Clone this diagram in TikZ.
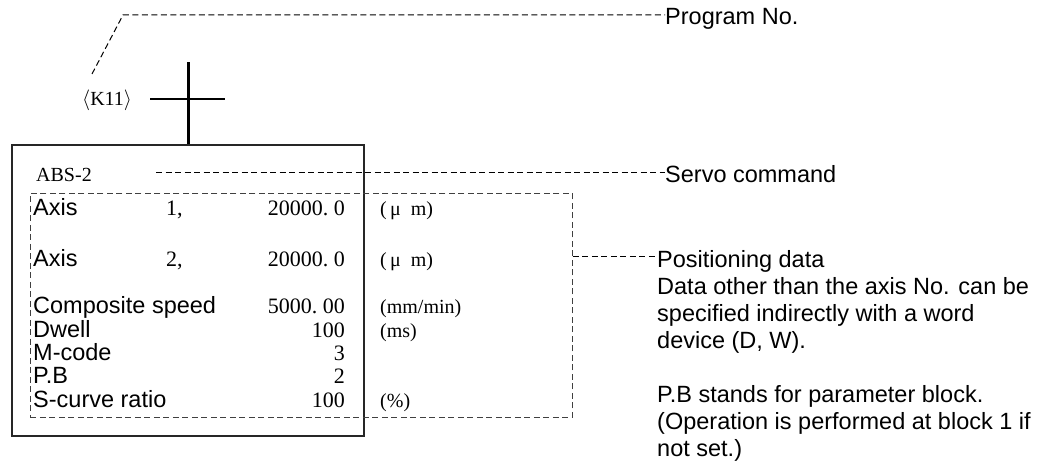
\documentclass[tikz,border=0pt]{standalone}
\usepackage{fontspec}
\setmainfont{Liberation Serif}
\setsansfont{Liberation Sans}
\usetikzlibrary{positioning}
\newcommand\lblfont{\sffamily\fontsize{23.5}{27}\selectfont}
\newcommand\valfont{\rmfamily\fontsize{22}{26}\selectfont}
\newcommand\unitfont{\rmfamily\fontsize{20}{24}\selectfont}
\newcommand\dpt{\makebox[0.5em][l]{.}}
\tikzset{
  leader/.style={dash pattern=on 6pt off 3.5pt,line width=1pt},
  boxleader/.style={rectangle,draw=black!75,dash pattern=on 6pt off 3.5pt,
                    line width=0.8pt,anchor=north west,inner sep=0pt},
  cmdbox/.style={rectangle,draw=black!85,line width=2pt,anchor=north west,inner sep=0pt},
  rail/.style={line width=3pt},
  rung/.style={line width=2pt},
  lbl/.style={inner sep=0pt,anchor=base west,font=\lblfont},
  val/.style={inner sep=0pt,anchor=base east,font=\valfont},
  unit/.style={inner sep=0pt,anchor=base west,font=\unitfont},
  note/.style={inner sep=0pt,font=\lblfont,align=left}
}
\begin{document}
\begin{tikzpicture}[x=1pt,y=-1pt]
  \useasboundingbox (0,0) rectangle (1055,465);

  % step box and its transition
  \node[cmdbox,minimum width=352pt,minimum height=291pt] (cmd) at (11,144) {};
  \node[boxleader,minimum width=542pt,minimum height=224pt] (posbox) at (30,193) {};
  \coordinate (railtop) at (188,62);
  \coordinate (rungL) at (150,99);
  \coordinate (rungR) at (225,99);
  \draw[rail] (cmd.north) -- (railtop);
  \draw[rung] (rungL) -- (rungR);
  \node[unit,anchor=base west] (k11) at (82,106) {$\langle$K11$\rangle$};
  \node[unit] (abs) at (36,182) {ABS-2};

  % positioning data rows
  \node[lbl] (axis1) at (33,216) {Axis};
  \node[val,anchor=base west] (axis1no) at (166,216) {1,};
  \node[val] (axis1val) at (345,216) {20000\dpt0};
  \node[unit] (axis1unit) at (380,216) {(\,μ\enspace m)};

  \node[lbl] (axis2) at (33,266) {Axis};
  \node[val,anchor=base west] (axis2no) at (166,266) {2,};
  \node[val] (axis2val) at (345,266) {20000\dpt0};
  \node[unit] (axis2unit) at (380,266) {(\,μ\enspace m)};

  \node[lbl] (speed) at (33,313) {Composite speed};
  \node[val] (speedval) at (345,313) {5000\dpt00};
  \node[unit] (speedunit) at (380,313) {(mm/min)};

  \node[lbl] (dwell) at (33,337) {Dwell};
  \node[val] (dwellval) at (345,337) {100};
  \node[unit] (dwellunit) at (380,337) {(ms)};

  \node[lbl] (mcode) at (33,360) {M-code};
  \node[val] (mcodeval) at (345,360) {3};

  \node[lbl] (pblk) at (33,383) {P.B};
  \node[val] (pblkval) at (345,383) {2};

  \node[lbl] (scurve) at (33,407) {S-curve ratio};
  \node[val] (scurveval) at (345,407) {100};
  \node[unit] (scurveunit) at (380,407) {(\%)};

  % notes on the right
  \node[lbl] (pgmno) at (665,25) {Program No.};
  \node[lbl] (servo) at (665,183) {Servo command};
  \node[lbl] (posdata) at (657,267) {Positioning data};
  \node[note,below right=5pt and 0pt of posdata.south west] (posnote)
      {Data other than the axis No. can be\\specified indirectly with a word\\
       device (D, W).\\[27pt]P.B stands for parameter block.\\
       (Operation is performed at block 1 if\\not set.)};

  \coordinate (k11lead) at (92,74);
  \coordinate (pgmbend) at (123,15);
  \coordinate (servostart) at (156,173);
  \draw[leader] (k11lead) -- (pgmbend) -- (pgmbend -| pgmno.west);
  \draw[leader] (servostart) -- (servostart -| servo.west);
  \draw[leader] (posbox.east |- 0,257) -- (posdata.west |- 0,257);

\end{tikzpicture}
\end{document}
